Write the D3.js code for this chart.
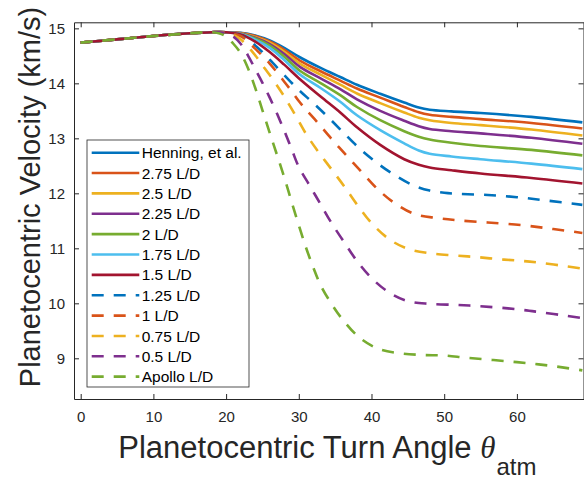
<!DOCTYPE html>
<html><head><meta charset="utf-8">
<script src="https://cdn.jsdelivr.net/npm/d3@7"></script>
<style>body{margin:0;background:#fff}svg{display:block}</style>
</head><body><svg id="c" width="584" height="479"></svg>
<script>
// ---------- data ----------
const xTicks = [0, 10, 20, 30, 40, 50, 60];
const yTicks = [9, 10, 11, 12, 13, 14, 15];

const seriesNames = ["Henning, et al.", "2.75 L/D", "2.5 L/D", "2.25 L/D", "2 L/D", "1.75 L/D", "1.5 L/D",
                     "1.25 L/D", "1 L/D", "0.75 L/D", "0.5 L/D", "Apollo L/D"];
const seriesColors = ["#0072BD", "#D95319", "#EDB120", "#7E2F8E", "#77AC30", "#4DBEEE", "#A2142F",
                      "#0072BD", "#D95319", "#EDB120", "#7E2F8E", "#77AC30"];
const seriesDashed = [false, false, false, false, false, false, false, true, true, true, true, true];

// solid series share one angle grid
const solidX = [0, 5, 10, 15, 18, 20, 22, 24, 26, 28, 30.2, 33, 35.7, 38, 41.2, 44.5, 46.5, 48, 51, 55, 62, 69];
const henningY = [14.74, 14.80, 14.86, 14.91, 14.93, 14.93, 14.92, 14.87, 14.78, 14.645, 14.47, 14.28, 14.115, 13.975, 13.81, 13.65, 13.56, 13.52, 13.49, 13.46, 13.39, 13.29];
const ld275Y   = [14.74, 14.80, 14.86, 14.91, 14.93, 14.93, 14.915, 14.86, 14.76, 14.61, 14.41, 14.22, 14.05, 13.905, 13.74, 13.57, 13.475, 13.43, 13.39, 13.35, 13.28, 13.18];
const ld25Y    = [14.74, 14.80, 14.86, 14.91, 14.93, 14.93, 14.91, 14.845, 14.74, 14.575, 14.355, 14.16, 13.975, 13.815, 13.64, 13.47, 13.375, 13.33, 13.28, 13.24, 13.16, 13.05];
const ld225Y   = [14.74, 14.80, 14.86, 14.91, 14.93, 14.93, 14.905, 14.83, 14.715, 14.535, 14.295, 14.09, 13.895, 13.71, 13.50, 13.32, 13.22, 13.17, 13.13, 13.09, 13.01, 12.90];
const ld2Y     = [14.74, 14.80, 14.86, 14.91, 14.93, 14.93, 14.90, 14.815, 14.685, 14.485, 14.225, 14.005, 13.785, 13.57, 13.33, 13.13, 13.03, 12.98, 12.92, 12.86, 12.79, 12.69];
const ld175Y   = [14.74, 14.80, 14.86, 14.91, 14.93, 14.93, 14.895, 14.795, 14.645, 14.425, 14.155, 13.915, 13.665, 13.42, 13.15, 12.91, 12.78, 12.72, 12.67, 12.62, 12.54, 12.44];
const ld15Y    = [14.74, 14.80, 14.86, 14.91, 14.93, 14.93, 14.89, 14.76, 14.57, 14.34, 14.07, 13.76, 13.47, 13.20, 12.88, 12.62, 12.52, 12.47, 12.42, 12.36, 12.28, 12.18];

// dashed series
const ld125X = [0, 5, 10, 15, 18, 20, 22, 24, 26, 28, 30, 32, 34, 36.1, 38.4, 40.3, 42.5, 45.5, 48, 50, 52, 56, 60, 64, 69];
const ld125Y = [14.74, 14.80, 14.86, 14.91, 14.93, 14.92, 14.86, 14.69, 14.43, 14.15, 13.88, 13.64, 13.39, 13.11, 12.81, 12.60, 12.39, 12.16, 12.05, 12.01, 11.99, 11.97, 11.93, 11.87, 11.79];
const ld1X = [0, 5, 10, 15, 18, 20, 22, 23, 24, 25, 26, 27, 28, 29, 30, 31, 32.5, 34.5, 36.6, 38.7, 40.9, 43.2, 46, 49, 51.8, 56, 60.8, 65, 69];
const ld1Y = [14.74, 14.80, 14.86, 14.91, 14.93, 14.92, 14.86, 14.76, 14.63, 14.50, 14.36, 14.20, 14.03, 13.86, 13.68, 13.52, 13.30, 12.99, 12.68, 12.38, 12.07, 11.82, 11.62, 11.55, 11.51, 11.47, 11.42, 11.35, 11.28];
const ld075X = [0, 5, 10, 15, 18, 19, 20, 21, 22, 23, 24, 25, 26, 27, 28, 29, 30, 31, 32.6, 34.6, 36.4, 38.1, 40.2, 42.5, 45, 48, 51.5, 54.5, 57.7, 60.8, 63.6, 67, 69];
const ld075Y = [14.74, 14.80, 14.86, 14.91, 14.93, 14.93, 14.92, 14.88, 14.80, 14.67, 14.51, 14.33, 14.15, 13.96, 13.76, 13.54, 13.31, 13.08, 12.77, 12.42, 12.10, 11.78, 11.43, 11.16, 10.99, 10.91, 10.87, 10.84, 10.80, 10.77, 10.73, 10.67, 10.63];
const ld05X = [0, 5, 10, 15, 18, 19, 20, 21, 22, 23, 24, 25, 26, 27, 28, 29, 30, 31.5, 33, 34.5, 36.4, 38, 40, 42.5, 45, 48, 51.8, 54.6, 57.7, 60.8, 63.6, 67, 69];
const ld05Y = [14.74, 14.80, 14.86, 14.91, 14.93, 14.93, 14.91, 14.85, 14.72, 14.51, 14.26, 14.01, 13.74, 13.45, 13.14, 12.81, 12.48, 12.14, 11.80, 11.46, 11.08, 10.77, 10.46, 10.19, 10.04, 9.99, 9.97, 9.95, 9.92, 9.88, 9.83, 9.77, 9.73];
const apolloX = [0, 5, 10, 15, 18, 19, 20, 21, 22, 23, 24, 25, 26, 27, 28, 29, 30, 31, 32, 33, 34.5, 36, 38.4, 41, 44, 47, 50, 53, 56.6, 60, 63, 66, 69];
const apolloY = [14.74, 14.80, 14.86, 14.91, 14.93, 14.91, 14.85, 14.72, 14.55, 14.28, 13.92, 13.51, 13.10, 12.70, 12.29, 11.85, 11.42, 11.01, 10.65, 10.33, 9.99, 9.71, 9.37, 9.17, 9.09, 9.06, 9.05, 9.01, 8.97, 8.93, 8.89, 8.84, 8.78];

const seriesX = [solidX, solidX, solidX, solidX, solidX, solidX, solidX, ld125X, ld1X, ld075X, ld05X, apolloX];
const seriesY = [henningY, ld275Y, ld25Y, ld225Y, ld2Y, ld175Y, ld15Y, ld125Y, ld1Y, ld075Y, ld05Y, apolloY];

// ---------- chart ----------
const svg = d3.select("#c");
const L = 74, R = 583.5, T = 22.3, B = 399;
const x = d3.scaleLinear().domain([-0.92, 69.16]).range([L, R]);
const y = d3.scaleLinear().domain([8.26, 15.11]).range([B, T]);
const axisColor = "#262626";
const font = "'Liberation Sans', Arial, Helvetica, sans-serif";

svg.append("defs").append("clipPath").attr("id", "clip")
  .append("rect").attr("x", L).attr("y", T).attr("width", R - L).attr("height", B - T);

const lineGen = d3.line().x(d => x(d[0])).y(d => y(d[1])).curve(d3.curveCatmullRom.alpha(0.5));
const plot = svg.append("g").attr("clip-path", "url(#clip)");
seriesNames.forEach((name, i) => {
  const pts = seriesX[i].map((v, k) => [v, seriesY[i][k]]);
  plot.append("path").datum(pts)
    .attr("d", lineGen)
    .attr("fill", "none")
    .attr("stroke", seriesColors[i])
    .attr("stroke-width", 2.6)
    .attr("stroke-dasharray", seriesDashed[i] ? "12,10" : null);
});

function styleAxis(g) {
  g.selectAll("path.domain").attr("stroke", axisColor).attr("stroke-width", 1);
  g.selectAll(".tick line").attr("stroke", axisColor).attr("stroke-width", 1);
  g.selectAll(".tick text").attr("fill", axisColor).style("font-family", font).style("font-size", "15px");
}

svg.append("g").attr("transform", `translate(0,${B})`)
  .call(d3.axisBottom(x).tickValues(xTicks).tickSize(-5).tickSizeOuter(0).tickPadding(12).tickFormat(d3.format("d")))
  .call(styleAxis);
svg.append("g").attr("transform", `translate(0,${T})`)
  .call(d3.axisTop(x).tickValues(xTicks).tickSize(-5).tickSizeOuter(0).tickFormat(""))
  .call(styleAxis);
svg.append("g").attr("transform", `translate(${L},0)`)
  .call(d3.axisLeft(y).tickValues(yTicks).tickSize(-5).tickSizeOuter(0).tickPadding(9).tickFormat(d3.format("d")))
  .call(styleAxis);
svg.append("g").attr("transform", `translate(${R},0)`)
  .call(d3.axisRight(y).tickValues(yTicks).tickSize(-5).tickSizeOuter(0).tickFormat(""))
  .call(styleAxis);

// axis labels
svg.append("text")
  .attr("transform", "translate(40,197) rotate(-90)")
  .attr("text-anchor", "middle")
  .attr("fill", axisColor)
  .style("font-family", font).style("font-size", "29px")
  .text("Planetocentric Velocity (km/s)");

const xl = svg.append("text")
  .attr("x", 118.3).attr("y", 458.3)
  .attr("fill", axisColor)
  .style("font-family", font).style("font-size", "31px");
xl.append("tspan").text("Planetocentric Turn Angle ");
xl.append("tspan").style("font-family", "'Liberation Serif', 'Times New Roman', serif").style("font-style", "italic").text("θ");
xl.append("tspan").attr("dy", 16.7).attr("dx", 1).style("font-size", "24px").text("atm");

// legend
const lg = svg.append("g");
lg.append("rect").attr("x", 87).attr("y", 140).attr("width", 162).attr("height", 247)
  .attr("fill", "#fff").attr("stroke", axisColor).attr("stroke-width", 0.8);
seriesNames.forEach((name, i) => {
  const yy = 152.7 + i * 20.36;
  lg.append("line").attr("x1", 91.7).attr("x2", 139.3).attr("y1", yy).attr("y2", yy)
    .attr("stroke", seriesColors[i]).attr("stroke-width", 2.6)
    .attr("stroke-dasharray", seriesDashed[i] ? "12,10" : null);
  lg.append("text").attr("x", 141.7).attr("y", yy).attr("dy", "0.36em")
    .attr("fill", "#000")
    .style("font-family", font).style("font-size", "15.5px")
    .text(name);
});
</script>
</body></html>
